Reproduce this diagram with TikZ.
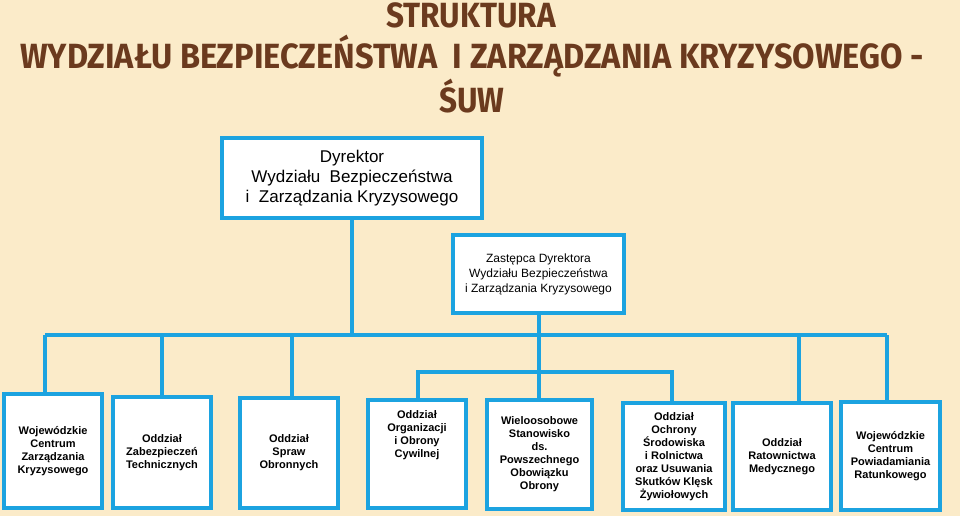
\documentclass[tikz,border=0pt]{standalone}
\usepackage{fontspec}
\usepackage{graphicx}
\setmainfont{Liberation Sans}
\newfontfamily\titlefont{Fira Sans}
\definecolor{bg}{HTML}{FBEBC9}
\definecolor{ln}{HTML}{1CA3E0}
\definecolor{tt}{HTML}{6B3A1E}
\begin{document}
\begin{tikzpicture}[x=1pt,y=-1pt,
  box/.style={draw=ln,line width=4pt,fill=white,align=center,font=\bfseries\fontsize{11}{13}\selectfont,inner sep=0pt},
  conn/.style={draw=ln,line width=4pt},
  ttl/.style={text=tt,font=\titlefont\bfseries\fontsize{35}{35}\selectfont}]
\fill[bg] (0,0) rectangle (960,516);
\useasboundingbox (0,0) rectangle (960,516);
\node[ttl] (t1) at (471,15) {\scalebox{0.9}[1]{STRUKTURA}};
\node[ttl] (t2) at (472,56) {\scalebox{0.93}[1]{WYDZIAŁU BEZPIECZEŃSTWA\ \ I ZARZĄDZANIA KRYZYSOWEGO -}};
\node[ttl] (t3) at (472,96) {\scalebox{0.9}[1]{ŚUW}};
\node[box,minimum width=260,minimum height=80,font=\fontsize{17}{20}\selectfont] (dir) at (352,178) {Dyrektor\\Wydziału\ \ Bezpieczeństwa\\i\ \ Zarządzania Kryzysowego};
\node[box,minimum width=171,minimum height=78,font=\fontsize{12}{15}\selectfont] (dep) at (538.5,274) {Zastępca Dyrektora\\Wydziału Bezpieczeństwa\\i Zarządzania Kryzysowego};
\node[box,minimum width=98,minimum height=114] (b1) at (53,451) {Wojewódzkie\\Centrum\\Zarządzania\\Kryzysowego};
\node[box,minimum width=98,minimum height=111] (b2) at (162,452.5) {Oddział\\Zabezpieczeń\\Technicznych};
\node[box,minimum width=98,minimum height=110] (b3) at (289,453) {Oddział\\Spraw\\Obronnych};
\node[box,minimum width=98,minimum height=108] (b4) at (417,454) {Oddział\\Organizacji\\i Obrony\\Cywilnej\\[26pt]};
\node[box,minimum width=105,minimum height=109] (b5) at (539.5,454.5) {Wieloosobowe\\Stanowisko\\ds.\\Powszechnego\\Obowiązku\\Obrony};
\node[box,minimum width=102,minimum height=107] (b6) at (674,456.5) {Oddział\\Ochrony\\Środowiska\\i Rolnictwa\\oraz Usuwania\\Skutków Klęsk\\Żywiołowych};
\node[box,minimum width=98,minimum height=107] (b7) at (782,456.5) {Oddział\\Ratownictwa\\Medycznego};
\node[box,minimum width=99,minimum height=108] (b8) at (890.5,456) {Wojewódzkie\\Centrum\\Powiadamiania\\Ratunkowego};
\coordinate (busL) at (45,335);
\coordinate (busR) at (887,335);
\draw[conn] (dir.south) -- (dir.south |- busL);
\draw[conn] (busL) -- (busR);
\draw[conn] (busL) -- (45,394);
\draw[conn] (b2.north |- busL) -- (b2.north);
\draw[conn] (292,335) -- (292,398);
\draw[conn] (799,335) -- (799,403);
\draw[conn] (busR) -- (887,402);
\draw[conn] (dep.south) -- (dep.south |- b5.north);
\draw[conn] (418,372) -- (672,372);
\draw[conn] (418,370) -- (418,400);
\draw[conn] (672,370) -- (672,403);
\end{tikzpicture}
\end{document}
